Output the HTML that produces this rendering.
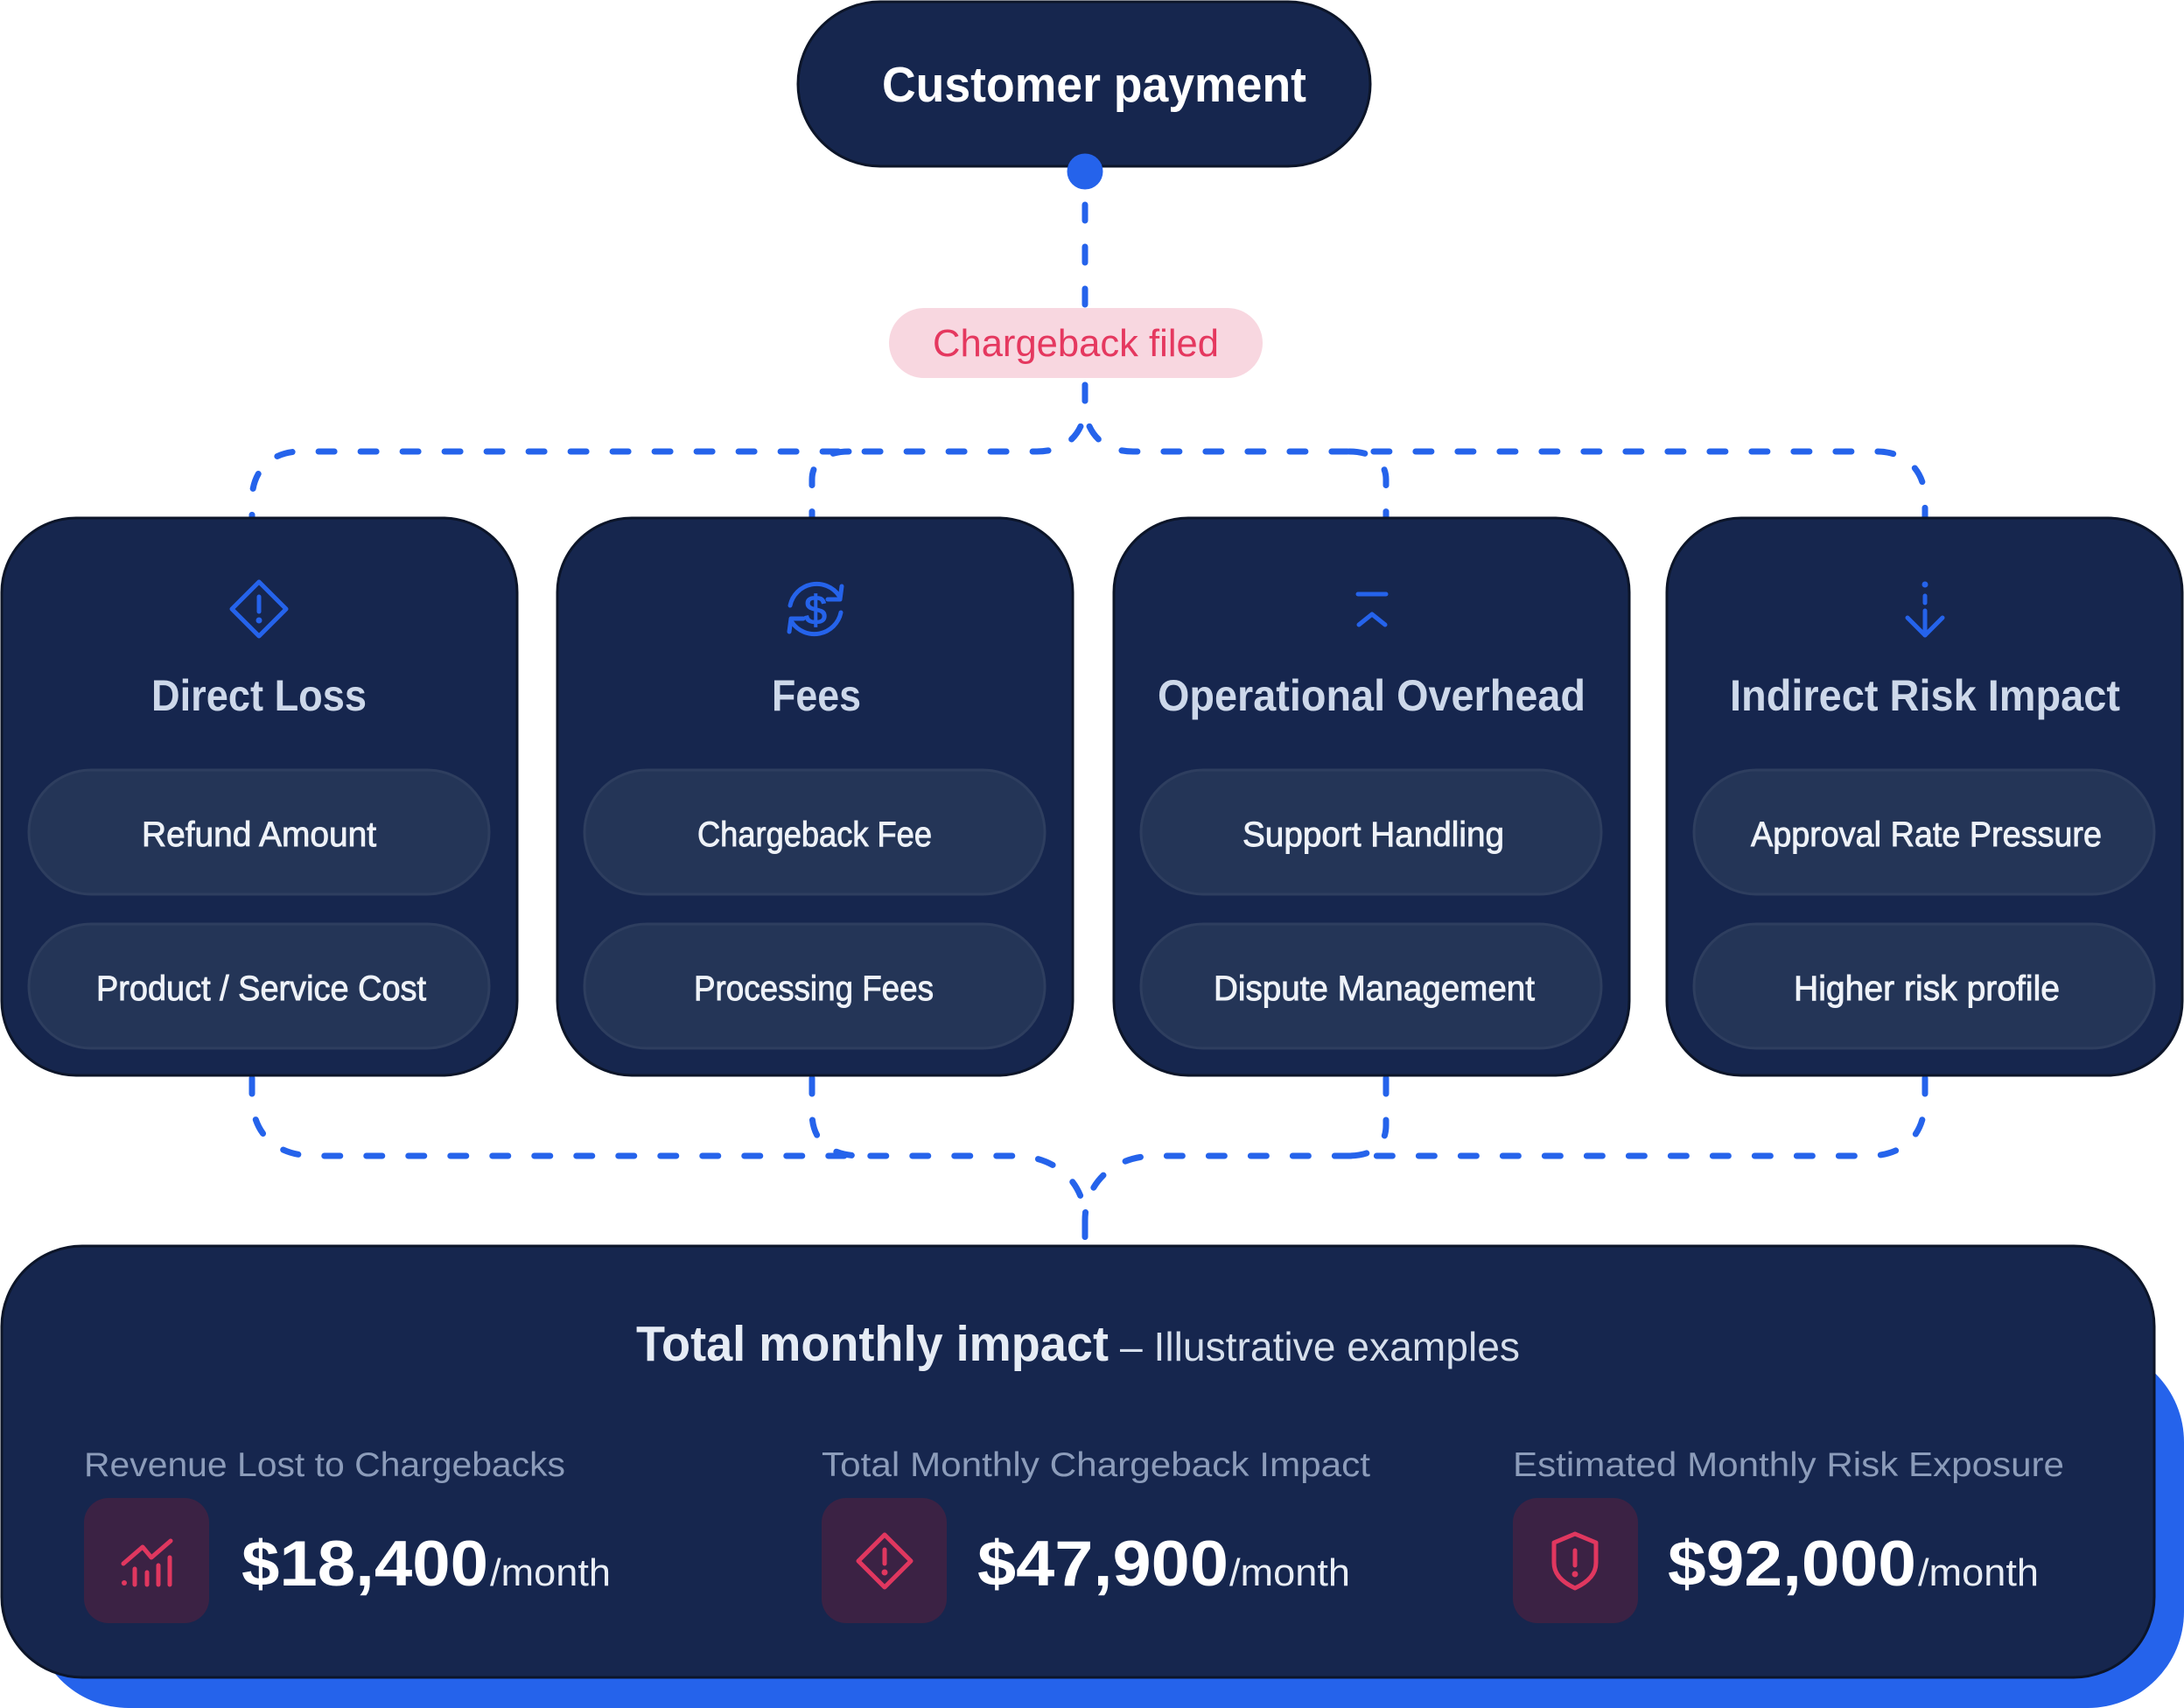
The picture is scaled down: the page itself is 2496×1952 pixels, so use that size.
<!DOCTYPE html>
<html>
<head>
<meta charset="utf-8">
<style>
html,body{margin:0;padding:0;background:#ffffff;}
svg{display:block;}
text{font-family:"Liberation Sans",sans-serif;}
</style>
</head>
<body>
<svg width="2496" height="1952" viewBox="0 0 2496 1952" xmlns="http://www.w3.org/2000/svg">
  <rect x="0" y="0" width="2496" height="1952" fill="#ffffff"/>

  <!-- connectors -->
  <g fill="none" stroke="#2563eb" stroke-width="7" stroke-linecap="round" stroke-dasharray="18 30">
    <path d="M1240,234 L1240,350"/>
    <path d="M1240,440 L1240,462 C1240,494 1220,516 1185,516 L343,516 C310,516 288,538 288,571 L288,592"/>
    <path d="M1240,440 L1240,462 C1240,494 1260,516 1295,516 L2145,516 C2178,516 2200,538 2200,571 L2200,592"/>
    <path d="M970,516 C944,516 928,528 928,548 L928,592"/>
    <path d="M1542,516 C1568,516 1584,528 1584,548 L1584,592"/>

    <path d="M288,1232 L288,1252 C288,1296 315,1321 360,1321 L1160,1321 C1205,1321 1240,1350 1240,1395 L1240,1422"/>
    <path d="M2200,1232 L2200,1256 C2200,1298 2175,1321 2135,1321 L1320,1321 C1275,1321 1240,1350 1240,1395 L1240,1422"/>
    <path d="M928,1232 L928,1272 C928,1302 946,1321 985,1321"/>
    <path d="M1584,1232 L1584,1286 C1584,1308 1570,1321 1540,1321"/>
  </g>

  <!-- top pill -->
  <rect x="912" y="2" width="654" height="188" rx="94" fill="#16264e" stroke="#0c1529" stroke-width="3"/>
  <text x="1008" y="116" font-size="57" font-weight="bold" fill="#ffffff" textLength="485" lengthAdjust="spacingAndGlyphs">Customer payment</text>
  <circle cx="1240" cy="196" r="20.5" fill="#2563eb"/>

  <!-- chargeback pill -->
  <rect x="1016" y="352" width="427" height="80" rx="40" fill="#f8d7e0"/>
  <text x="1066" y="407" font-size="44" fill="#e5385f" textLength="327" lengthAdjust="spacingAndGlyphs">Chargeback filed</text>

  <!-- cards -->
  <g stroke="#0c1529" stroke-width="3" fill="#16264e">
    <rect x="2" y="592" width="589" height="637" rx="85"/>
    <rect x="637" y="592" width="589" height="637" rx="85"/>
    <rect x="1273" y="592" width="589" height="637" rx="85"/>
    <rect x="1905" y="592" width="589" height="637" rx="85"/>
  </g>

  <!-- sub pills -->
  <g stroke="#2e3e5f" stroke-width="3" fill="#243557">
    <rect x="33" y="880" width="526" height="142" rx="71"/>
    <rect x="33" y="1056" width="526" height="142" rx="71"/>
    <rect x="668" y="880" width="526" height="142" rx="71"/>
    <rect x="668" y="1056" width="526" height="142" rx="71"/>
    <rect x="1304" y="880" width="526" height="142" rx="71"/>
    <rect x="1304" y="1056" width="526" height="142" rx="71"/>
    <rect x="1936" y="880" width="526" height="142" rx="71"/>
    <rect x="1936" y="1056" width="526" height="142" rx="71"/>
  </g>

  <!-- card icons -->
  <g fill="none" stroke="#2563eb" stroke-width="5" stroke-linecap="round" stroke-linejoin="round">
    <polygon points="296,665 327,696 296,727 265,696"/>
    <line x1="296" y1="682" x2="296" y2="699"/>
    <path d="M903,692 A31,31 0 0 1 959,681"/>
    <polyline points="946,685 960,685 962,670"/>
    <path d="M961,700 A31,31 0 0 1 905,711"/>
    <polyline points="918,707 904,707 902,722"/>
    <line x1="1552" y1="679" x2="1584" y2="679"/>
    <polyline points="1553,714 1568,702 1583,714"/>
    <line x1="2200" y1="681" x2="2200" y2="689"/>
    <line x1="2200" y1="698" x2="2200" y2="726"/>
    <polyline points="2180,706 2200,726 2220,706"/>
  </g>
  <circle cx="296" cy="709" r="3.5" fill="#2563eb"/>
  <circle cx="2200" cy="668" r="3.5" fill="#2563eb"/>
  <text x="932" y="713" font-size="46" fill="#2563eb" stroke="#2563eb" stroke-width="1.2" text-anchor="middle">$</text>

  <!-- card titles -->
  <g font-size="50" font-weight="bold" fill="#cdd8ea">
    <text x="173" y="812" textLength="246" lengthAdjust="spacingAndGlyphs">Direct Loss</text>
    <text x="882" y="812" textLength="102" lengthAdjust="spacingAndGlyphs">Fees</text>
    <text x="1323" y="812" textLength="489" lengthAdjust="spacingAndGlyphs">Operational Overhead</text>
    <text x="1977" y="812" textLength="446" lengthAdjust="spacingAndGlyphs">Indirect Risk Impact</text>
  </g>

  <!-- sub pill texts -->
  <g font-size="40" fill="#eef2f8" stroke="#eef2f8" stroke-width="0.9">
    <text x="162" y="967" textLength="268" lengthAdjust="spacingAndGlyphs">Refund Amount</text>
    <text x="110" y="1143" textLength="377" lengthAdjust="spacingAndGlyphs">Product / Service Cost</text>
    <text x="797" y="967" textLength="268" lengthAdjust="spacingAndGlyphs">Chargeback Fee</text>
    <text x="793" y="1143" textLength="274" lengthAdjust="spacingAndGlyphs">Processing Fees</text>
    <text x="1420" y="967" textLength="299" lengthAdjust="spacingAndGlyphs">Support Handling</text>
    <text x="1387" y="1143" textLength="367" lengthAdjust="spacingAndGlyphs">Dispute Management</text>
    <text x="2001" y="967" textLength="401" lengthAdjust="spacingAndGlyphs">Approval Rate Pressure</text>
    <text x="2050" y="1143" textLength="304" lengthAdjust="spacingAndGlyphs">Higher risk profile</text>
  </g>

  <!-- bottom box -->
  <rect x="37" y="1538" width="2459" height="414" rx="110" fill="#2563eb"/>
  <rect x="2" y="1424" width="2460" height="493" rx="92" fill="#16264e" stroke="#0c1529" stroke-width="3"/>

  <text x="727" y="1555" font-size="57" font-weight="bold" fill="#e6ecf5" textLength="540" lengthAdjust="spacingAndGlyphs">Total monthly impact</text>
  <text x="1280" y="1555" font-size="46" fill="#d6dfec" textLength="457" lengthAdjust="spacingAndGlyphs">– Illustrative examples</text>

  <g font-size="39" fill="#8c9cba">
    <text x="96" y="1687" textLength="550" lengthAdjust="spacingAndGlyphs">Revenue Lost to Chargebacks</text>
    <text x="939" y="1687" textLength="627" lengthAdjust="spacingAndGlyphs">Total Monthly Chargeback Impact</text>
    <text x="1729" y="1687" textLength="630" lengthAdjust="spacingAndGlyphs">Estimated Monthly Risk Exposure</text>
  </g>

  <g fill="#3b2244">
    <rect x="96" y="1712" width="143" height="143" rx="28"/>
    <rect x="939" y="1712" width="143" height="143" rx="28"/>
    <rect x="1729" y="1712" width="143" height="143" rx="28"/>
  </g>

  <g fill="none" stroke="#e0375f" stroke-width="5" stroke-linecap="round" stroke-linejoin="round">
    <polyline points="141,1787 163,1768 173,1780 195,1761"/>
    <line x1="154" y1="1793" x2="154" y2="1811"/>
    <line x1="168" y1="1797" x2="168" y2="1811"/>
    <line x1="181" y1="1789" x2="181" y2="1811"/>
    <line x1="194" y1="1780" x2="194" y2="1811"/>
    <polygon points="1011,1754 1041,1784 1011,1814 981,1784"/>
    <line x1="1011" y1="1771" x2="1011" y2="1787"/>
    <path d="M1800,1753 L1824,1763 L1824,1786 C1824,1800 1813,1809 1800,1815 C1787,1809 1776,1800 1776,1786 L1776,1763 Z"/>
    <line x1="1800" y1="1772" x2="1800" y2="1789"/>
  </g>
  <circle cx="142" cy="1809" r="3" fill="#e0375f"/>
  <circle cx="1011" cy="1797" r="3.5" fill="#e0375f"/>
  <circle cx="1800" cy="1799" r="3.5" fill="#e0375f"/>

  <g font-size="73" font-weight="bold" fill="#ffffff">
    <text x="276" y="1812" textLength="282" lengthAdjust="spacingAndGlyphs">$18,400</text>
    <text x="1117" y="1812" textLength="287" lengthAdjust="spacingAndGlyphs">$47,900</text>
    <text x="1906" y="1812" textLength="284" lengthAdjust="spacingAndGlyphs">$92,000</text>
  </g>
  <g font-size="44" fill="#e8edf5">
    <text x="560" y="1812" textLength="138" lengthAdjust="spacingAndGlyphs">/month</text>
    <text x="1405" y="1812" textLength="138" lengthAdjust="spacingAndGlyphs">/month</text>
    <text x="2192" y="1812" textLength="138" lengthAdjust="spacingAndGlyphs">/month</text>
  </g>
</svg>
</body>
</html>
